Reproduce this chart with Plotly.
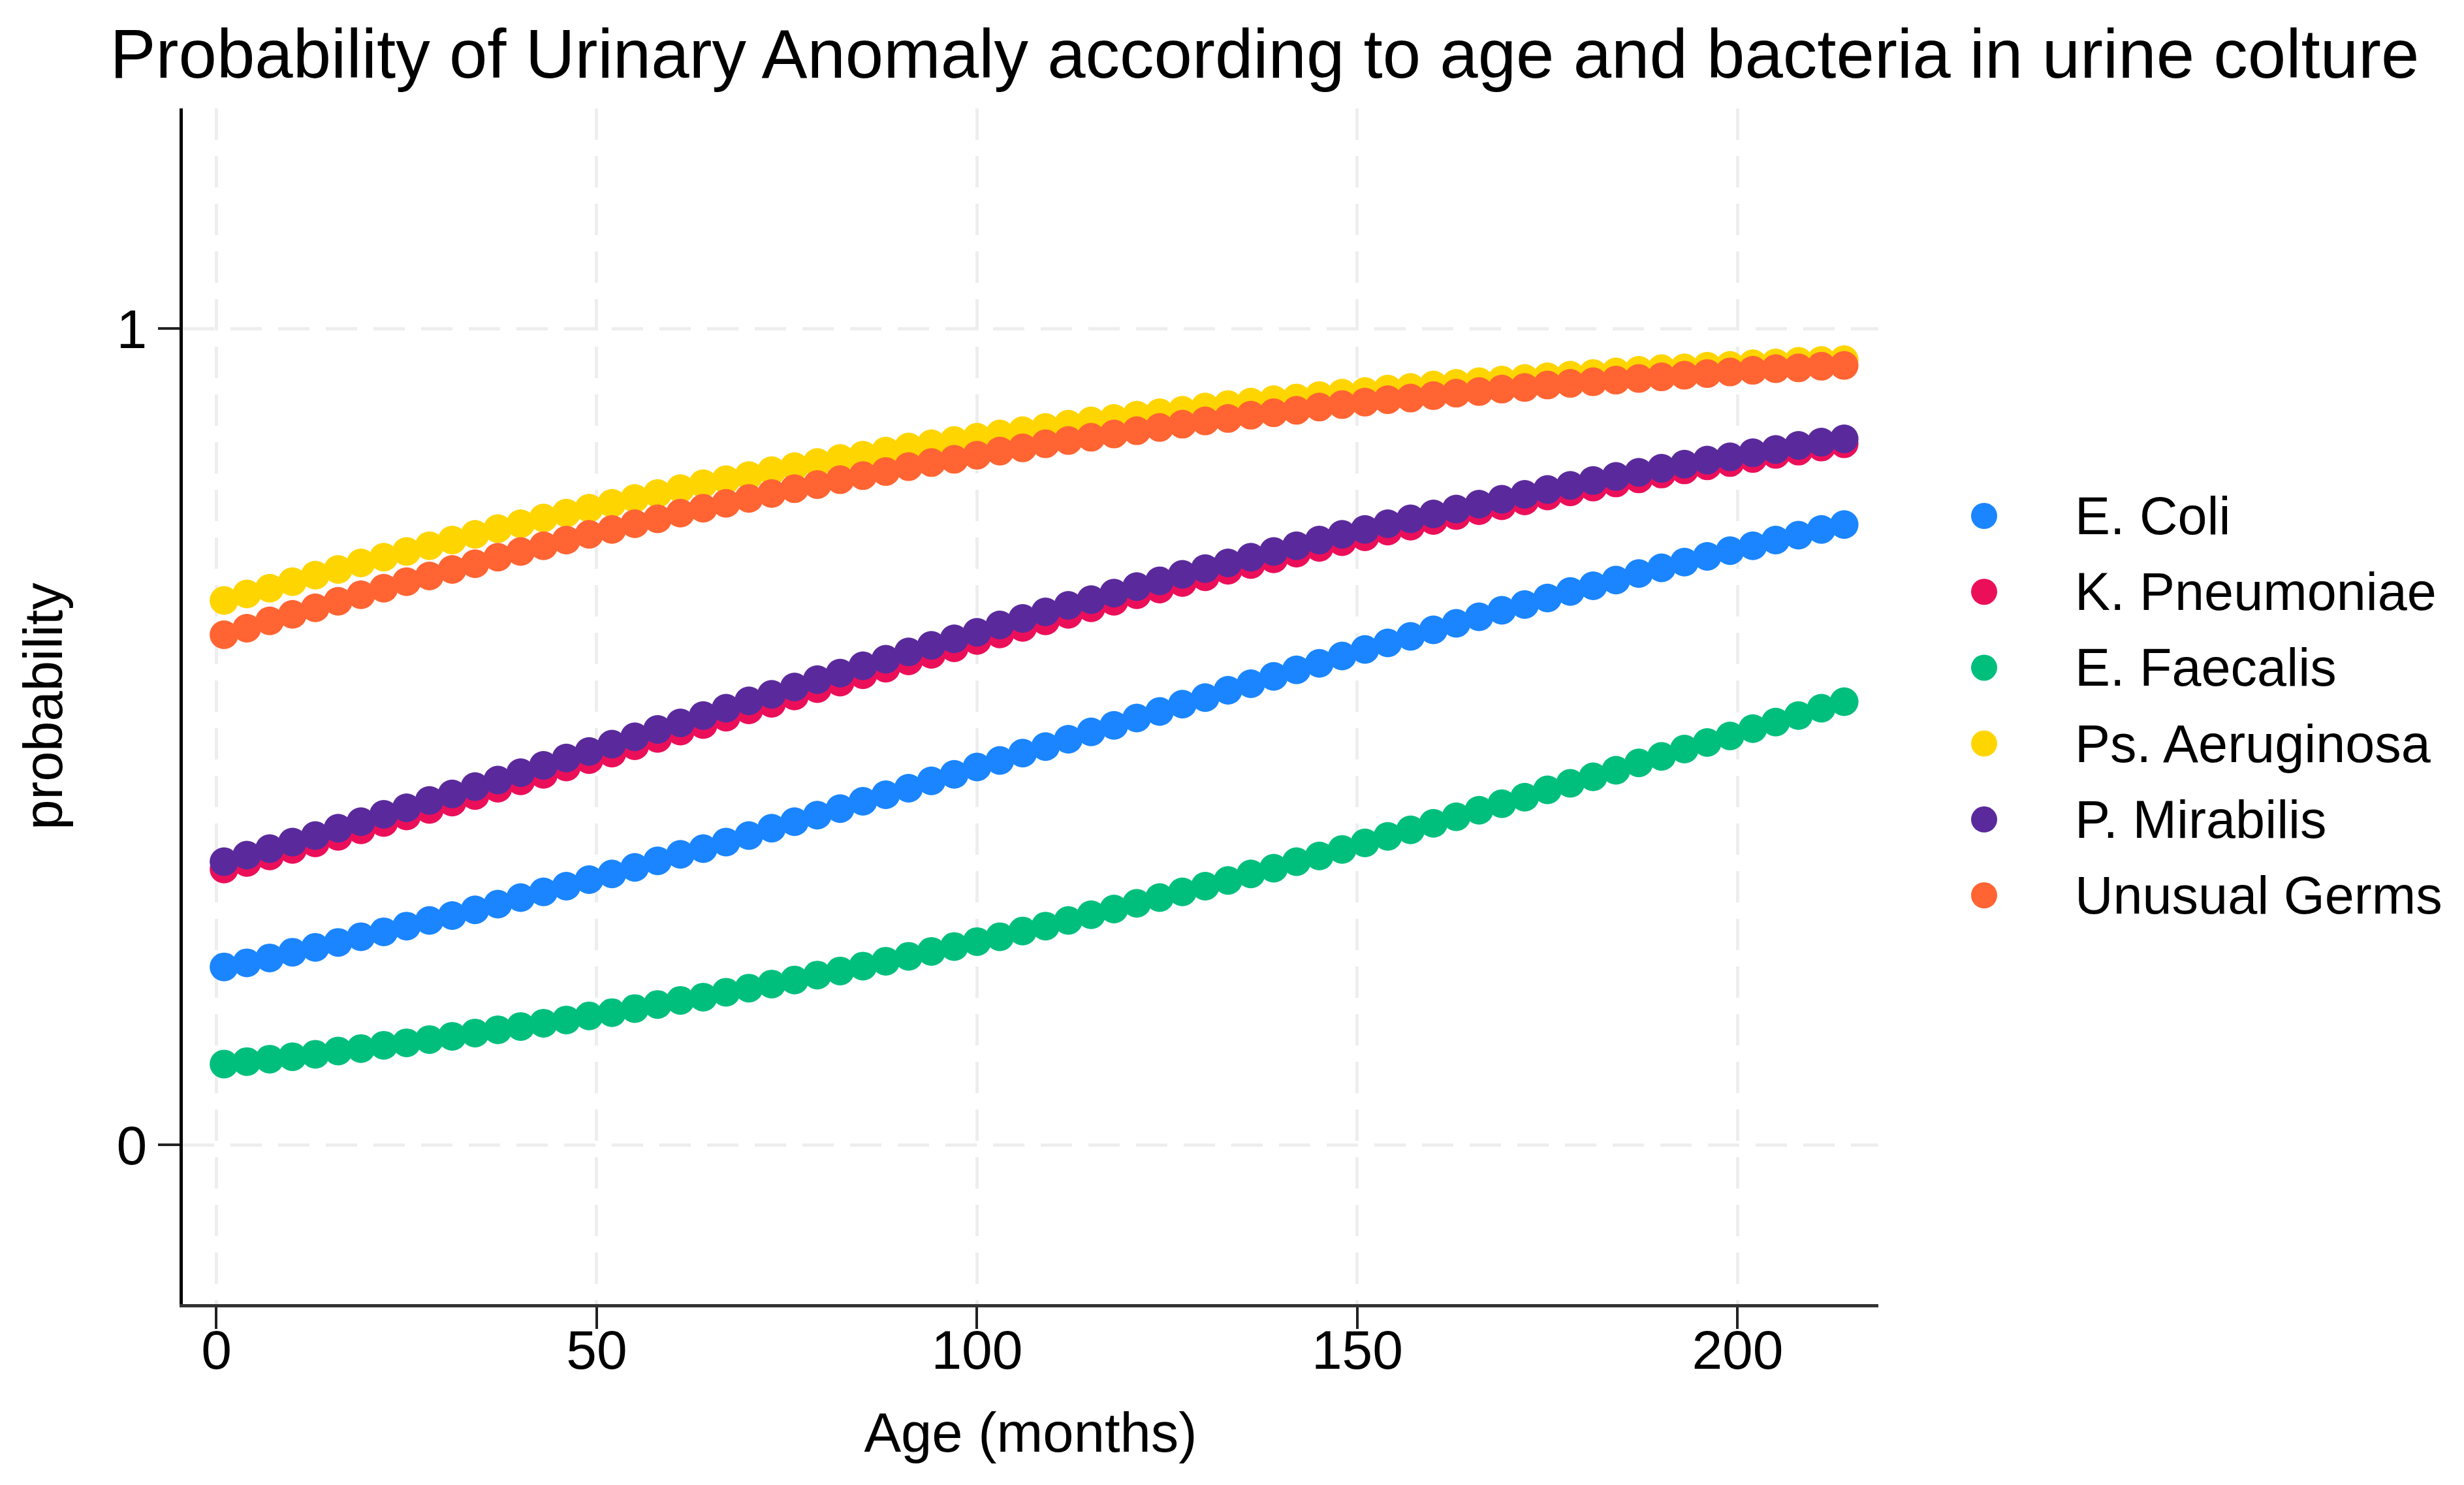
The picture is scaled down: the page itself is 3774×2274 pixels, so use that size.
import plotly.graph_objects as go

age = [1, 4, 7, 10, 13, 16, 19, 22, 25, 28, 31, 34, 37, 40, 43, 46, 49, 52, 55, 58,
       61, 64, 67, 70, 73, 76, 79, 82, 85, 88, 91, 94, 97, 100, 103, 106, 109, 112, 115, 118,
       121, 124, 127, 130, 133, 136, 139, 142, 145, 148, 151, 154, 157, 160, 163, 166, 169, 172, 175, 178,
       181, 184, 187, 190, 193, 196, 199, 202, 205, 208, 211, 214]

e_coli = [0.218, 0.223, 0.229, 0.236, 0.242, 0.248, 0.255, 0.261, 0.268, 0.275,
          0.281, 0.288, 0.295, 0.303, 0.310, 0.317, 0.325, 0.332, 0.340, 0.348,
          0.356, 0.363, 0.371, 0.379, 0.388, 0.396, 0.404, 0.412, 0.421, 0.429,
          0.437, 0.446, 0.454, 0.463, 0.471, 0.480, 0.488, 0.497, 0.506, 0.514,
          0.523, 0.531, 0.540, 0.548, 0.557, 0.565, 0.574, 0.582, 0.590, 0.599,
          0.607, 0.615, 0.623, 0.631, 0.639, 0.647, 0.655, 0.662, 0.670, 0.678,
          0.685, 0.692, 0.700, 0.707, 0.714, 0.721, 0.728, 0.734, 0.741, 0.747,
          0.754, 0.760]

k_pneumoniae = [0.338, 0.346, 0.354, 0.362, 0.370, 0.378, 0.386, 0.395, 0.403, 0.411,
                0.420, 0.428, 0.437, 0.446, 0.454, 0.463, 0.472, 0.480, 0.489, 0.498,
                0.507, 0.515, 0.524, 0.533, 0.541, 0.550, 0.559, 0.567, 0.576, 0.584,
                0.593, 0.601, 0.609, 0.618, 0.626, 0.634, 0.642, 0.650, 0.658, 0.666,
                0.674, 0.681, 0.689, 0.696, 0.704, 0.711, 0.718, 0.725, 0.732, 0.739,
                0.745, 0.752, 0.758, 0.765, 0.771, 0.777, 0.783, 0.789, 0.795, 0.800,
                0.806, 0.811, 0.816, 0.822, 0.827, 0.832, 0.836, 0.841, 0.846, 0.850,
                0.855, 0.859]

e_faecalis = [0.099, 0.102, 0.105, 0.108, 0.111, 0.115, 0.118, 0.122, 0.125, 0.129,
              0.133, 0.137, 0.141, 0.145, 0.149, 0.153, 0.158, 0.162, 0.167, 0.172,
              0.177, 0.181, 0.187, 0.192, 0.197, 0.202, 0.208, 0.213, 0.219, 0.225,
              0.231, 0.237, 0.243, 0.249, 0.255, 0.262, 0.268, 0.275, 0.282, 0.289,
              0.296, 0.303, 0.310, 0.317, 0.324, 0.332, 0.339, 0.347, 0.354, 0.362,
              0.370, 0.378, 0.386, 0.394, 0.402, 0.410, 0.418, 0.426, 0.435, 0.443,
              0.451, 0.459, 0.468, 0.476, 0.485, 0.493, 0.501, 0.510, 0.518, 0.526,
              0.535, 0.543]

ps_aeruginosa = [0.667, 0.675, 0.682, 0.690, 0.698, 0.705, 0.713, 0.720, 0.727, 0.734,
                 0.741, 0.748, 0.755, 0.761, 0.768, 0.774, 0.780, 0.786, 0.792, 0.798,
                 0.804, 0.810, 0.815, 0.820, 0.826, 0.831, 0.836, 0.841, 0.845, 0.850,
                 0.855, 0.859, 0.863, 0.867, 0.871, 0.875, 0.879, 0.883, 0.887, 0.890,
                 0.894, 0.897, 0.900, 0.904, 0.907, 0.910, 0.913, 0.915, 0.918, 0.921,
                 0.923, 0.926, 0.928, 0.931, 0.933, 0.935, 0.937, 0.939, 0.941, 0.943,
                 0.945, 0.947, 0.949, 0.951, 0.952, 0.954, 0.955, 0.957, 0.958, 0.960,
                 0.961, 0.962]

p_mirabilis = [0.347, 0.355, 0.363, 0.371, 0.379, 0.388, 0.396, 0.405, 0.413, 0.422,
               0.430, 0.439, 0.447, 0.456, 0.465, 0.474, 0.482, 0.491, 0.500, 0.509,
               0.517, 0.526, 0.535, 0.544, 0.552, 0.561, 0.570, 0.578, 0.587, 0.595,
               0.604, 0.612, 0.620, 0.628, 0.637, 0.645, 0.653, 0.661, 0.668, 0.676,
               0.684, 0.691, 0.699, 0.706, 0.713, 0.720, 0.727, 0.734, 0.741, 0.748,
               0.754, 0.761, 0.767, 0.773, 0.779, 0.785, 0.791, 0.797, 0.803, 0.808,
               0.814, 0.819, 0.824, 0.829, 0.834, 0.839, 0.843, 0.848, 0.852, 0.857,
               0.861, 0.865]

unusual_germs = [0.625, 0.633, 0.642, 0.650, 0.658, 0.666, 0.674, 0.682, 0.690, 0.697,
                 0.705, 0.712, 0.720, 0.727, 0.734, 0.741, 0.748, 0.754, 0.761, 0.767,
                 0.774, 0.780, 0.786, 0.792, 0.798, 0.804, 0.809, 0.815, 0.820, 0.825,
                 0.831, 0.836, 0.840, 0.845, 0.850, 0.854, 0.859, 0.863, 0.867, 0.871,
                 0.875, 0.879, 0.883, 0.887, 0.890, 0.894, 0.897, 0.900, 0.904, 0.907,
                 0.910, 0.913, 0.915, 0.918, 0.921, 0.923, 0.926, 0.928, 0.931, 0.933,
                 0.935, 0.937, 0.939, 0.941, 0.943, 0.945, 0.947, 0.949, 0.951, 0.952,
                 0.954, 0.955]

series_names = ["E. Coli", "K. Pneumoniae", "E. Faecalis", "Ps. Aeruginosa", "P. Mirabilis", "Unusual Germs"]
series_values = [e_coli, k_pneumoniae, e_faecalis, ps_aeruginosa, p_mirabilis, unusual_germs]
series_colors = ["#1A85FF", "#EB0F5A", "#00BF7D", "#FFD500", "#5A2A9C", "#FF6432"]

x_ticks = [0, 50, 100, 150, 200]
y_ticks = [0, 1]

FONT = "Liberation Sans, Arial, Helvetica, sans-serif"

fig = go.Figure()
for name, vals, col in zip(series_names, series_values, series_colors):
    fig.add_trace(go.Scatter(
        x=age, y=vals, mode="markers", name=name, showlegend=False,
        marker=dict(size=44, color=col, line=dict(width=0)),
        cliponaxis=False,
    ))

# custom legend (large markers like the reference)
W, H = 3774, 2274
L, R, T, B = 272, 905, 158, 285
pw, ph = W - L - R, H - T - B
leg_x_px = 3031
leg_text_px = 3168
leg_y0_px = 782
leg_step_px = 116.2
shapes = []
annotations = []
for i, (name, col) in enumerate(zip(series_names, series_colors)):
    cy = leg_y0_px + i * leg_step_px
    xp = (leg_x_px - L) / pw
    yp = (H - B - cy) / ph
    shapes.append(dict(type="circle", xref="paper", yref="paper",
                       xsizemode="pixel", ysizemode="pixel",
                       xanchor=xp, yanchor=yp, x0=-20, x1=20, y0=-20, y1=20,
                       fillcolor=col, line=dict(width=0)))
    annotations.append(dict(xref="paper", yref="paper", x=(leg_text_px - L) / pw, y=yp,
                            xanchor="left", yanchor="middle", showarrow=False,
                            text=name, font=dict(family=FONT, size=81, color="black")))

fig.update_layout(
    width=W, height=H,
    margin=dict(l=L, r=R, t=T, b=B, pad=0),
    paper_bgcolor="white", plot_bgcolor="white",
    font=dict(family=FONT, color="black"),
    title=dict(text="Probability of Urinary Anomaly according to age and bacteria in urine colture",
               font=dict(family=FONT, size=105, color="black"),
               x=1929 / W, xanchor="center", xref="container",
               y=1 - 74 / H, yanchor="middle", yref="container"),
    shapes=shapes, annotations=annotations,
    showlegend=False,
)
fig.update_xaxes(
    range=[-4.42, 218.5], tickvals=x_ticks, ticktext=[str(v) for v in x_ticks],
    showline=True, linecolor="#333333", linewidth=5,
    ticks="outside", ticklen=33, tickwidth=4, tickcolor="#222222",
    tickfont=dict(family=FONT, size=84, color="black"),
    ticklabelstandoff=-40,
    showgrid=True, gridcolor="#EEEEEE", gridwidth=5, griddash="48px,25px",
    zeroline=False,
    title=dict(text="Age (months)", font=dict(family=FONT, size=85, color="black"), standoff=52),
)
fig.update_yaxes(
    range=[-0.1951, 1.2699], tickvals=y_ticks, ticktext=[str(v) for v in y_ticks],
    showline=True, linecolor="black", linewidth=5,
    ticks="outside", ticklen=33, tickwidth=4, tickcolor="#222222",
    tickfont=dict(family=FONT, size=84, color="black"),
    showgrid=True, gridcolor="#EEEEEE", gridwidth=5, griddash="48px,25px",
    zeroline=False,
    title=dict(text="probability", font=dict(family=FONT, size=83, color="black"), standoff=57),
)

fig.write_html("out.html")
